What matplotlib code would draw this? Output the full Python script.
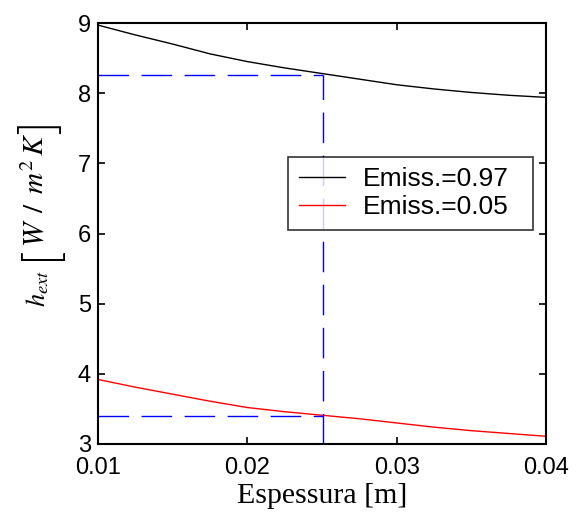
import numpy as np
import matplotlib
matplotlib.use("Agg")
import matplotlib.pyplot as plt

# thickness [m] and external heat transfer coefficient [W/m2K]
espessura = [0.010, 0.0125, 0.015, 0.0175, 0.020, 0.0225, 0.025,
             0.0275, 0.030, 0.0325, 0.035, 0.0375, 0.040]
h_097 = [8.97, 8.83, 8.70, 8.56, 8.45, 8.36, 8.28, 8.20, 8.12, 8.06, 8.01, 7.97, 7.94]
h_005 = [3.92, 3.81, 3.71, 3.61, 3.52, 3.46, 3.41, 3.36, 3.30, 3.24, 3.19, 3.15, 3.11]
labels = ["Emiss.=0.97", "Emiss.=0.05"]

# reading guide
x_sel = 0.0251
h_sel_097 = 8.26
h_sel_005 = 3.40

plt.rcParams["mathtext.fontset"] = "stix"
plt.rcParams["font.family"] = ["Liberation Sans", "DejaVu Sans"]

W, H = 578, 518
fig = plt.figure(figsize=(W / 100, H / 100), dpi=100)
ax = fig.add_axes([98 / W, 1 - 444 / H, 448 / W, 421 / H])

ax.plot(espessura, h_097, color="black", lw=1.0, label=labels[0])
ax.plot(espessura, h_005, color="red", lw=1.0, label=labels[1])

dash = dict(color="blue", lw=1.0, dashes=(22, 9))
ax.plot([espessura[0], x_sel], [h_sel_097, h_sel_097], **dash)
ax.plot([espessura[0], x_sel], [h_sel_005, h_sel_005], **dash)
ax.plot([x_sel, x_sel], [3, h_sel_097], **dash)

ax.set_xlim(0.01, 0.04)
ax.set_ylim(3, 9)
ax.set_xticks([0.01, 0.02, 0.03, 0.04])
ax.set_xticklabels(["0.01", "0.02", "0.03", "0.04"])
ax.set_yticks(range(3, 10))
ax.tick_params(direction="in", top=True, right=True, length=5, width=1.2,
               labelsize=17)
ax.tick_params(axis="x", pad=9.5)
ax.tick_params(axis="y", pad=5)
for s in ax.spines.values():
    s.set_linewidth(1.5)

ax.set_xlabel("Espessura [m]", fontfamily="Liberation Serif", fontsize=21.5, labelpad=3)

# y label: h_ext plus a large, thin bracketed unit
ylab = dict(rotation=90, ha="center", va="center")
brk = dict(fontsize=36, fontfamily="Lato", fontweight=300, **ylab)
fig.text(38 / W, 1 - 288 / H, r"$h_{ext}$", fontsize=19, **ylab)
fig.text(40 / W, 1 - 253 / H, "[", **brk)
fig.text(36 / W, 1 - 190 / H, r"$W\ \,/\ \,m^{2}\,K$", fontsize=21, **ylab)
fig.text(40 / W, 1 - 127 / H, "]", **brk)

leg = ax.legend(loc="upper left", bbox_to_anchor=(0.424, 0.682, 0.547, 0),
                mode="expand", fontsize=19, frameon=True, fancybox=False,
                edgecolor="black", handlelength=1.75, handletextpad=0.7,
                borderpad=0.4, labelspacing=0.15, borderaxespad=0)
leg.get_frame().set_linewidth(1.2)

fig.savefig("out.png", dpi=100)
